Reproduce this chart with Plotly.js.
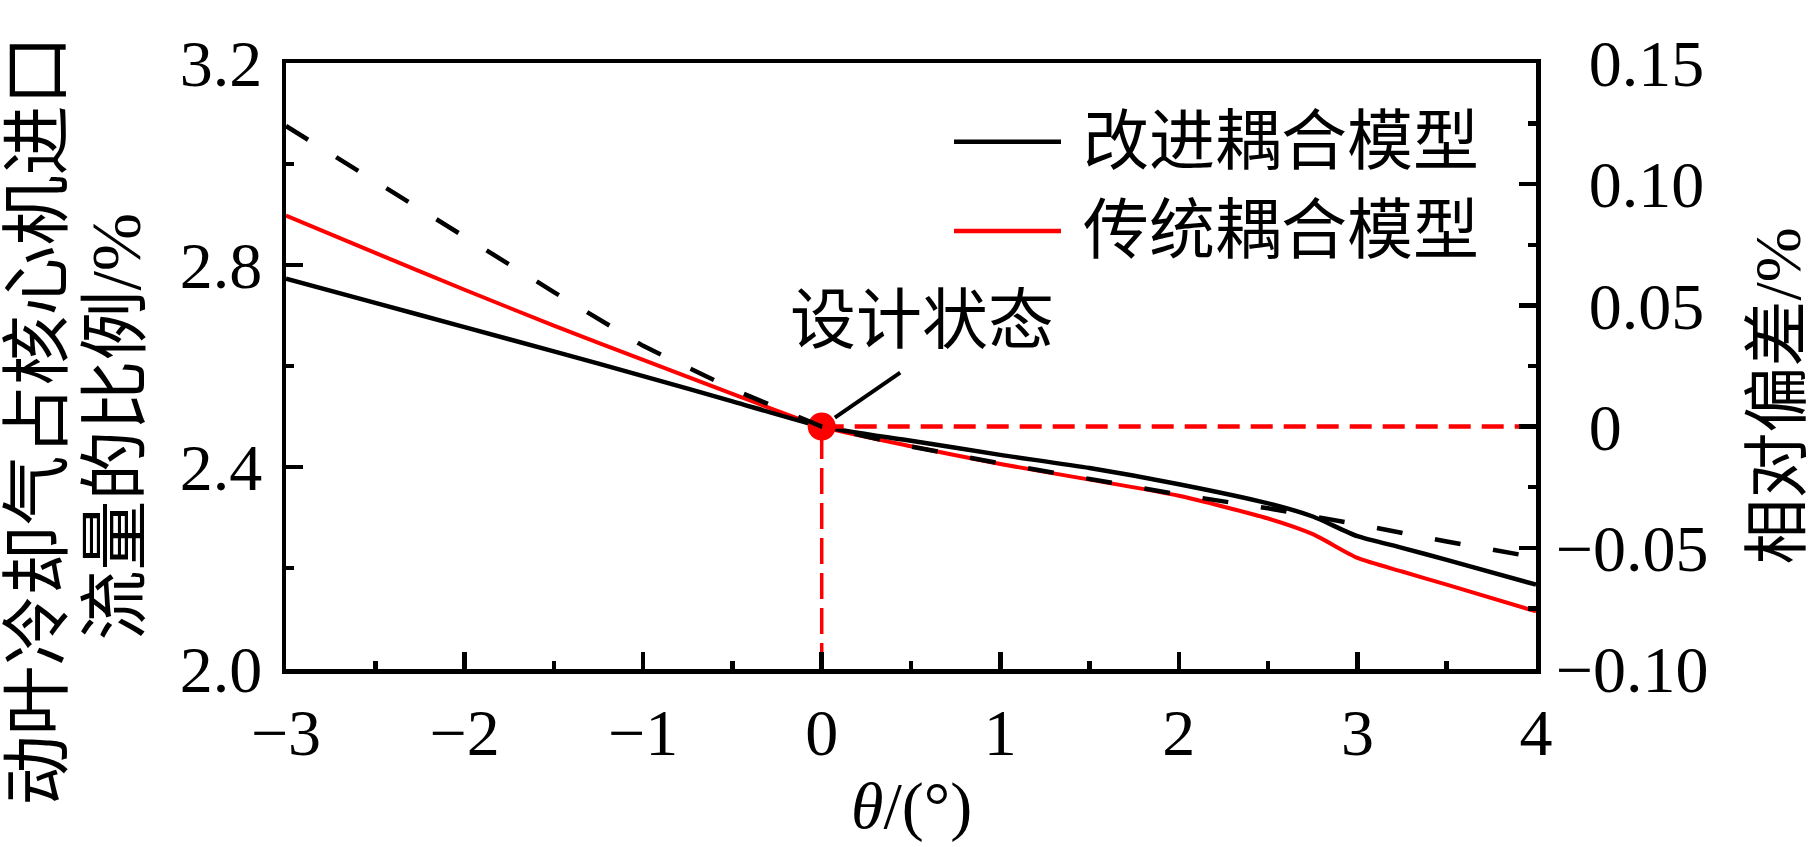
<!DOCTYPE html>
<html>
<head>
<meta charset="utf-8">
<script src="https://cdn.plot.ly/plotly-3.0.1.min.js"></script>
<style>html,body{margin:0;padding:0;background:#fff;}</style>
</head>
<body>
<div id="chart" style="width:1819px;height:847px;"></div>
<script>
// ---- data ----
const theta = [-3, -2.5, -2, -1.5, -1, -0.5, 0, 0.5, 1, 1.5, 2, 2.5, 2.75, 3, 3.25, 3.5, 4];
const improvedModel = [2.773, 2.725, 2.677, 2.629, 2.580, 2.530, 2.480, 2.452, 2.424, 2.398, 2.366, 2.328, 2.302, 2.263, 2.240, 2.216, 2.167];
const traditionalModel = [2.898, 2.824, 2.751, 2.680, 2.612, 2.545, 2.480, 2.441, 2.406, 2.375, 2.343, 2.298, 2.267, 2.220, 2.193, 2.167, 2.114];
const thetaDev = [-3, -2.5, -2, -1.5, -1, -0.5, 0, 0.5, 1, 1.5, 2, 2.5, 3, 3.5, 4];
const relativeDeviation = [0.124, 0.101, 0.078, 0.0555, 0.0333, 0.0155, 0, -0.0082, -0.0152, -0.0215, -0.028, -0.0337, -0.0403, -0.0474, -0.054];
const designTheta = [0];
const designRatio = [2.48];
const seriesNames = ['改进耦合模型', '传统耦合模型'];
const xRange = [-3, 4];
const yRange = [2.0, 3.2];
const y2Range = [-0.10, 0.15];
const y2TickVals = [-0.10, -0.05, 0, 0.05, 0.10, 0.15];
const y2TickText = ['−0.10', '−0.05', '\u20070', '\u20070.05', '\u20070.10', '\u20070.15'];
const designLabel = '设计状态';
const yTitleLine1 = '动叶冷却气占核心机进口';
const yTitleLine2 = '流量的比例/%';
const y2Title = '相对偏差/%';
const xTitle = '<i>θ</i>/(°)';

const RED = '#ff0000';
const FONT = "'Liberation Serif', 'Times New Roman', 'Noto Sans CJK SC', serif";

const traces = [
  { // vertical design guide
    x: [designTheta[0], designTheta[0]], y: [yRange[0], designRatio[0]],
    mode: 'lines', line: {color: RED, width: 3.5, dash: '26px,9px'}, hoverinfo: 'skip'
  },
  { // horizontal design guide (relative deviation = 0)
    x: [designTheta[0], xRange[1]], y: [0, 0], yaxis: 'y2',
    mode: 'lines', line: {color: RED, width: 4.5, dash: '22px,11px'}, hoverinfo: 'skip'
  },
  {
    x: thetaDev, y: relativeDeviation, yaxis: 'y2', name: y2Title,
    mode: 'lines', line: {color: '#000', width: 4.5, dash: '26px,33px'}
  },
  {
    x: theta, y: traditionalModel, name: seriesNames[1],
    mode: 'lines', line: {color: RED, width: 4, shape: 'spline', smoothing: 0.6}
  },
  {
    x: theta, y: improvedModel, name: seriesNames[0],
    mode: 'lines', line: {color: '#000', width: 4.5, shape: 'spline', smoothing: 0.6}
  },
  {
    x: designTheta, y: designRatio, name: designLabel,
    mode: 'markers', marker: {color: RED, size: 28}
  }
];

const axisCommon = {
  showline: true, linecolor: '#000', linewidth: 4.5,
  ticks: 'inside', tickcolor: '#000', tickwidth: 4.5, ticklen: 17,
  showgrid: false, zeroline: false,
  tickfont: {family: FONT, size: 66, color: '#000'}
};

// legend drawn as line samples + texts (paper coords)
const legendRows = [
  {name: seriesNames[0], color: '#000', y: 0.870},
  {name: seriesNames[1], color: RED, y: 0.7228}
];
const shapes = legendRows.map(r => ({
  type: 'line', xref: 'paper', yref: 'paper',
  x0: 0.5344, x1: 0.62, y0: r.y, y1: r.y,
  line: {color: r.color, width: 4.5}
}));

const annotations = legendRows.map(r => ({
  xref: 'paper', yref: 'paper', x: 0.636, y: r.y, xanchor: 'left', yanchor: 'middle',
  text: r.name, showarrow: false, font: {family: FONT, size: 66, color: '#000'}
}));
annotations.push(
  { // design-point label
    x: 0.56, y: 2.690, xref: 'x', yref: 'y', text: designLabel, showarrow: false,
    xanchor: 'center', yanchor: 'middle', font: {family: FONT, size: 66, color: '#000'}
  },
  { // pointer line
    x: designTheta[0], y: designRatio[0], xref: 'x', yref: 'y', text: '',
    showarrow: true, arrowhead: 0, arrowwidth: 4, arrowcolor: '#000',
    ax: 80, ay: -55, standoff: 16
  },
  {
    xref: 'paper', yref: 'paper', x: -0.1976, y: 0.41, textangle: -90,
    text: yTitleLine1, showarrow: false, xanchor: 'center', yanchor: 'middle',
    font: {family: FONT, size: 70, color: '#000'}
  },
  {
    xref: 'paper', yref: 'paper', x: -0.1352, y: 0.40, textangle: -90,
    text: yTitleLine2, showarrow: false, xanchor: 'center', yanchor: 'middle',
    font: {family: FONT, size: 70, color: '#000'}
  },
  {
    xref: 'paper', yref: 'paper', x: 1.193, y: 0.45, textangle: -90,
    text: y2Title, showarrow: false, xanchor: 'center', yanchor: 'middle',
    font: {family: FONT, size: 66, color: '#000'}
  },
  {
    xref: 'paper', yref: 'paper', x: 0.5, y: -0.226,
    text: xTitle, showarrow: false, xanchor: 'center', yanchor: 'middle',
    font: {family: FONT, size: 66, color: '#000'}
  }
);

const layout = {
  width: 1819, height: 847,
  margin: {l: 286, r: 283, t: 63, b: 178, pad: 0},
  paper_bgcolor: '#fff', plot_bgcolor: '#fff',
  showlegend: false,
  font: {family: FONT, size: 66, color: '#000'},
  xaxis: Object.assign({}, axisCommon, {
    range: xRange, tickmode: 'linear', tick0: -3, dtick: 1, mirror: true,
    ticklabelstandoff: 2,
    minor: {dtick: 0.5, tick0: -3, ticks: 'inside', ticklen: 8, tickwidth: 4.5, tickcolor: '#000'}
  }),
  yaxis: Object.assign({}, axisCommon, {
    range: yRange, tickmode: 'linear', tick0: 2.0, dtick: 0.4, tickformat: '.1f',
    ticklabelstandoff: 6,
    minor: {dtick: 0.2, tick0: 2.0, ticks: 'inside', ticklen: 8, tickwidth: 4.5, tickcolor: '#000'}
  }),
  yaxis2: Object.assign({}, axisCommon, {
    overlaying: 'y', side: 'right', range: y2Range,
    tickmode: 'array', tickvals: y2TickVals, ticktext: y2TickText,
    ticklabelstandoff: 2,
    minor: {dtick: 0.025, tick0: 0, ticks: 'inside', ticklen: 8, tickwidth: 4.5, tickcolor: '#000'}
  }),
  shapes: shapes,
  annotations: annotations
};

Plotly.newPlot('chart', traces, layout, {staticPlot: true, displayModeBar: false});
</script>
</body>
</html>
